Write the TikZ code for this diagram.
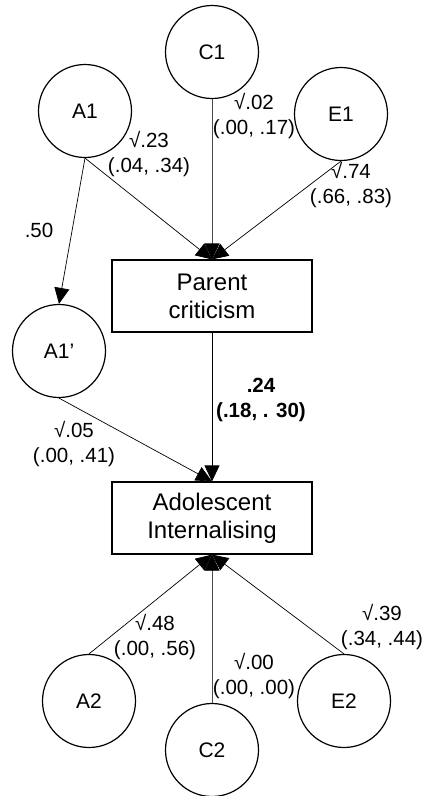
\documentclass[tikz,border=0pt]{standalone}
\usepackage{fontspec}
\setmainfont{Liberation Sans}
\usetikzlibrary{arrows.meta}
\begin{document}
\begin{tikzpicture}[x=1pt,y=-1pt,
  circ/.style={draw,circle,line width=1.2pt,minimum size=93pt,inner sep=0pt,font=\fontsize{21}{24}\selectfont},
  boxn/.style={draw,rectangle,line width=1.2pt,minimum width=200pt,minimum height=72pt,inner sep=0pt,align=center,font=\fontsize{24}{28}\selectfont},
  lab/.style={align=center,inner sep=0pt,font=\fontsize{20.5}{24.5}\selectfont},
  conn/.style={line width=0.7pt,-{Triangle[length=16pt,width=15pt,color=black]}}]
\useasboundingbox (0,0) rectangle (425,796);
\node[circ] (C1) at (212,52) {C1};
\node[circ] (A1) at (85,111) {A1};
\node[circ] (E1) at (341,114) {E1};
\node[boxn] (PC) at (212,296) {Parent\\criticism};
\node[circ] (A1p) at (59,351) {A1’};
\node[boxn] (AI) at (212,518) {Adolescent\\Internalising};
\node[circ] (A2) at (89,701) {A2};
\node[circ] (C2) at (212,750) {C2};
\node[circ] (E2) at (344,701) {E2};
\draw[conn] (A1.south) -- (PC.north);
\draw[conn,draw=black!70] (C1.south) -- (PC.north);
\draw[conn] (E1.south) -- (PC.north);
\draw[conn] (A1.south) -- (A1p.north);
\draw[conn] (A1p.south) -- (AI.north);
\draw[conn] (PC.south) -- (AI.north);
\draw[conn] (A2.north) -- (AI.south);
\draw[conn,draw=black!70] (C2.north) -- (AI.south);
\draw[conn] (E2.north) -- (AI.south);
\node[lab] (l1) at (149,154) {√.23\\(.04, .34)};
\node[lab] (l2) at (254,116) {√.02\\(.00, .17)};
\node[lab] (l3) at (351,185) {√.74\\(.66, .83)};
\node[lab] (l4) at (39,230) {.50};
\node[lab,font=\fontsize{20.5}{24.5}\selectfont\bfseries] (l5) at (261,400) {.24\\(.18, . 30)};
\node[lab] (l6) at (74,444) {√.05\\(.00, .41)};
\node[lab] (l7) at (155,637) {√.48\\(.00, .56)};
\node[lab] (l8) at (254,676) {√.00\\(.00, .00)};
\node[lab] (l9) at (382,627) {√.39\\(.34, .44)};
\end{tikzpicture}
\end{document}
